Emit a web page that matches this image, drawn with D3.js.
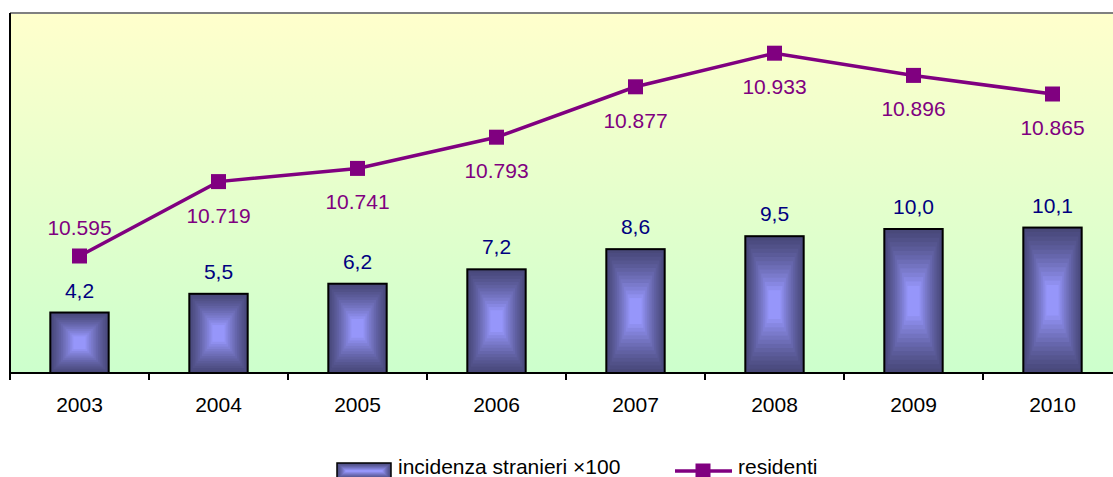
<!DOCTYPE html>
<html><head><meta charset="utf-8">
<script src="https://cdn.jsdelivr.net/npm/d3@7"></script>
<style>body{margin:0;background:#fff}svg{display:block}</style>
</head><body>
<script>
const years = ["2003","2004","2005","2006","2007","2008","2009","2010"];
const incidenza = [4.2,5.5,6.2,7.2,8.6,9.5,10.0,10.1];
const residenti = [10.595,10.719,10.741,10.793,10.877,10.933,10.896,10.865];
const seriesNames = ["incidenza stranieri ×100","residenti"];

const W=1113,H=477;
const FONT="Liberation Sans, Arial, sans-serif", FS=21;
const svg=d3.select("body").append("svg").attr("width",W).attr("height",H);
const defs=svg.append("defs");
const bg=defs.append("linearGradient").attr("id","bg").attr("x1",0).attr("y1",0).attr("x2",0).attr("y2",1);
bg.append("stop").attr("offset","0%").attr("stop-color","#ffffcc");
bg.append("stop").attr("offset","100%").attr("stop-color","#ccffcc");

const L=10,R=1122,T=13,B=373;
const x=d3.scaleBand().domain(years).range([L,R]).paddingInner(0.58).paddingOuter(0.29);
const xb=d3.scaleBand().domain(years).range([L,R]);
const y1=d3.scaleLinear().domain([0,25]).range([B,T]);
const y2=d3.scaleLinear().domain([10.4,11.0]).range([B,T]);

svg.append("rect").attr("x",L).attr("y",T).attr("width",R-L).attr("height",B-T).attr("fill","url(#bg)");
svg.append("line").attr("x1",L).attr("x2",R).attr("y1",T).attr("y2",T).attr("stroke","#808080").attr("stroke-width",2);
svg.append("line").attr("x1",L).attr("x2",L).attr("y1",T).attr("y2",B+1).attr("stroke","#000").attr("stroke-width",2);

const col=d3.interpolateRgb("#464676","#9696fa");
function bevel(g,x0,y0,w,h,n,fx,fy){
  for(let i=0;i<n;i++){
    const t=i/n;
    const ix=t*w/2*fx, iy=t*h/2*fy;
    g.append("rect").attr("x",x0+ix).attr("y",y0+iy).attr("width",Math.max(0,w-2*ix)).attr("height",Math.max(0,h-2*iy)).attr("fill",col(Math.pow((i+1)/n,1.3)));
  }
}
// bars
years.forEach((yr,i)=>{
  const bx=x(yr), bw=x.bandwidth(), by=y1(incidenza[i]), bh=B-by;
  const g=svg.append("g");
  bevel(g,bx,by,bw,bh,14,0.85,0.85);
  g.append("rect").attr("x",bx).attr("y",by).attr("width",bw).attr("height",bh).attr("fill","none").attr("stroke","#000").attr("stroke-width",2);
  svg.append("text").attr("x",bx+bw/2).attr("y",by-15).attr("text-anchor","middle")
    .attr("font-family",FONT).attr("font-size",FS).attr("fill","#000080")
    .text(d3.format(".1f")(incidenza[i]).replace(".",","));
});

// x axis
const ax=svg.append("g").attr("transform",`translate(0,${B})`);
ax.append("line").attr("x1",L-1).attr("x2",R).attr("stroke","#000").attr("stroke-width",2);
years.forEach(yr=>{
  const xx=xb(yr);
  ax.append("line").attr("x1",xx).attr("x2",xx).attr("y1",0).attr("y2",7).attr("stroke","#000").attr("stroke-width",2);
  ax.append("text").attr("x",xb(yr)+xb.bandwidth()/2).attr("y",39).attr("text-anchor","middle")
    .attr("font-family",FONT).attr("font-size",FS).attr("fill","#000").text(yr);
});

// line
const cx=yr=>xb(yr)+xb.bandwidth()/2;
const line=d3.line().x((d,i)=>cx(years[i])).y(d=>y2(d));
svg.append("path").datum(residenti).attr("d",line).attr("fill","none").attr("stroke","#800080").attr("stroke-width",3.5);
const fmt=d=>d3.format(".3f")(d);
residenti.forEach((v,i)=>{
  const mx=cx(years[i]), my=y2(v);
  svg.append("rect").attr("x",mx-7.5).attr("y",my-7.5).attr("width",15).attr("height",15).attr("fill","#800080");
  const below=my+41, barLabel=y1(incidenza[i])-15;
  const ly=(Math.abs(below-barLabel)<24)? my-21 : below;
  svg.append("text").attr("x",mx).attr("y",ly).attr("text-anchor","middle")
    .attr("font-family",FONT).attr("font-size",FS).attr("fill","#800080").text(fmt(v));
});

// legend
const lg=svg.append("g");
const sw=lg.append("g");
bevel(sw,337,463,54,16,8,0.35,1);
sw.append("rect").attr("x",337).attr("y",463).attr("width",54).attr("height",16).attr("fill","none").attr("stroke","#000").attr("stroke-width",1.5);
lg.append("text").attr("x",398).attr("y",474).attr("font-family",FONT).attr("font-size",FS).attr("fill","#000").text(seriesNames[0]);
lg.append("line").attr("x1",675).attr("x2",732).attr("y1",471).attr("y2",471).attr("stroke","#800080").attr("stroke-width",3.5);
lg.append("rect").attr("x",703-7.5).attr("y",471-7.5).attr("width",15).attr("height",15).attr("fill","#800080");
lg.append("text").attr("x",738).attr("y",474).attr("font-family",FONT).attr("font-size",FS).attr("fill","#000").text(seriesNames[1]);
</script>
</body></html>
